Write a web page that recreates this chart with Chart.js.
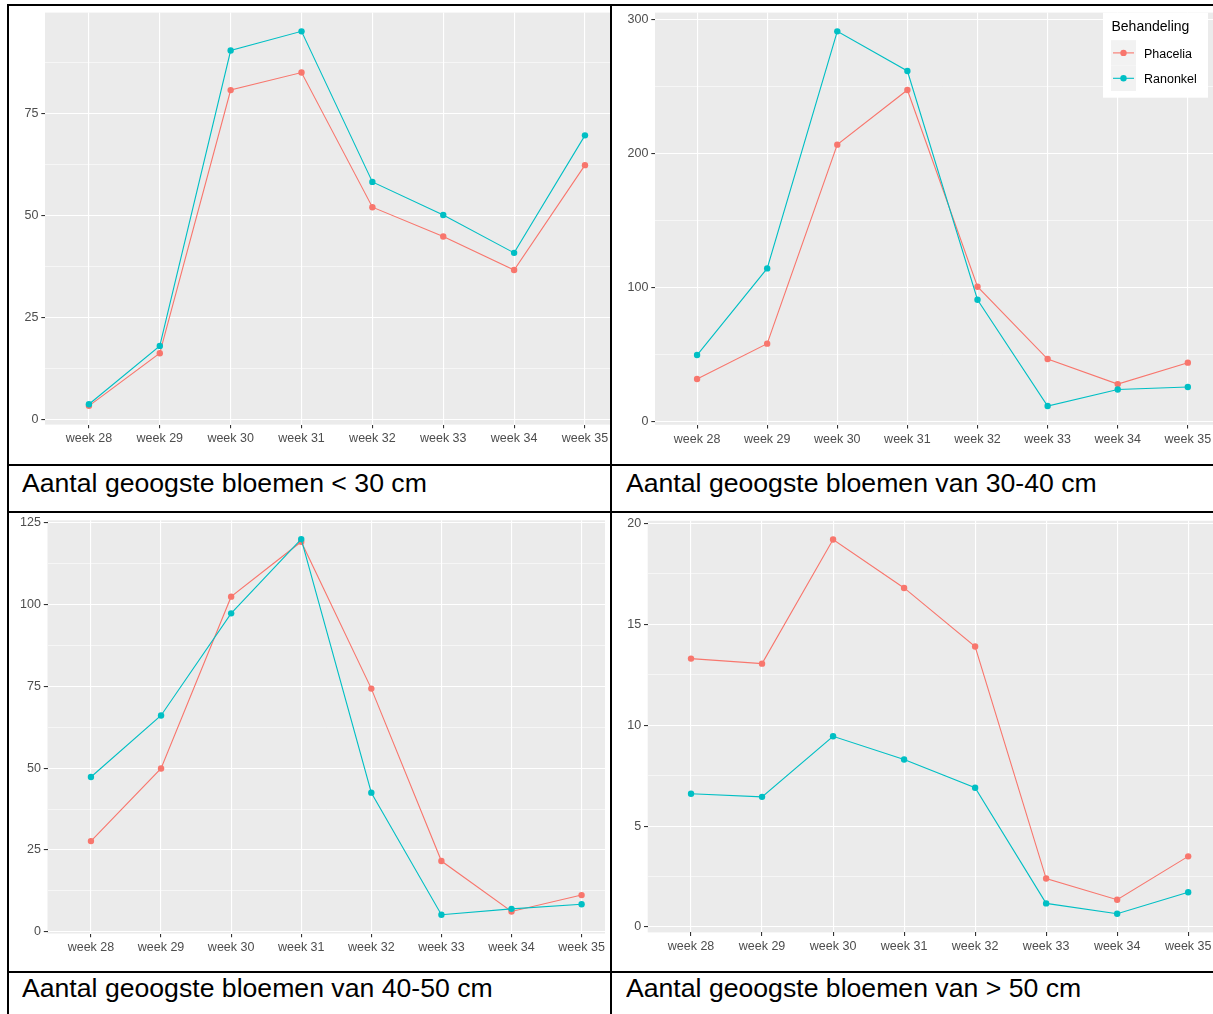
<!DOCTYPE html>
<html>
<head>
<meta charset="utf-8">
<title>Aantal geoogste bloemen per week</title>
<script src="https://cdn.jsdelivr.net/npm/chart.js@4.4.0/dist/chart.umd.min.js"></script>
<style>
  html, body { margin: 0; padding: 0; background: #fff; }
  body { width: 1213px; height: 1014px; position: relative; overflow: hidden;
         font-family: "Liberation Sans", Arial, sans-serif; }
  .rule { position: absolute; background: #000; }
  .cell { position: absolute; overflow: hidden; }
  .cell canvas { position: absolute; left: 0; top: 0; }
  .caption { position: absolute; left: 22px; font-size: 25px; line-height: 26px;
             color: #000; white-space: nowrap; transform: scaleX(1.065); transform-origin: 0 0; }
</style>
</head>
<body>
  <!-- table rules -->
  <div class="rule" style="left:7px;top:4px;width:1206px;height:2px"></div>
  <div class="rule" style="left:7px;top:4px;width:2px;height:1010px"></div>
  <div class="rule" style="left:610px;top:4px;width:2px;height:1010px"></div>
  <div class="rule" style="left:7px;top:464px;width:1206px;height:2px"></div>
  <div class="rule" style="left:7px;top:511px;width:1206px;height:2px"></div>
  <div class="rule" style="left:7px;top:971px;width:1206px;height:2px"></div>

  <div class="cell" style="left:9px;top:6px;width:601px;height:458px"><canvas id="c1" width="625" height="458"></canvas></div>
  <div class="cell" style="left:612px;top:6px;width:601px;height:458px"><canvas id="c2" width="625" height="458"></canvas></div>
  <div class="cell" style="left:9px;top:513px;width:601px;height:458px"><canvas id="c3" width="625" height="458"></canvas></div>
  <div class="cell" style="left:612px;top:513px;width:601px;height:458px"><canvas id="c4" width="625" height="458"></canvas></div>

  <div class="caption" style="top:470px">Aantal geoogste bloemen &lt; 30 cm</div>
  <div class="caption" style="top:470px;left:626px">Aantal geoogste bloemen van 30-40 cm</div>
  <div class="caption" style="top:975px">Aantal geoogste bloemen van 40-50 cm</div>
  <div class="caption" style="top:975px;left:626px">Aantal geoogste bloemen van &gt; 50 cm</div>

<script>
// ---- data ----
const weeks = ['week 28', 'week 29', 'week 30', 'week 31', 'week 32', 'week 33', 'week 34', 'week 35'];
const treatments = ['Phacelia', 'Ranonkel'];

const phaceliaUnder30 = [3.3, 16.2, 80.7, 85.0, 52.0, 44.8, 36.6, 62.3];
const ranonkelUnder30 = [3.7, 18.0, 90.4, 95.1, 58.2, 50.1, 40.8, 69.6];

const phacelia30to40 = [31.9, 58.3, 206.9, 247.7, 100.8, 46.8, 28.1, 44.1];
const ranonkel30to40 = [49.8, 114.5, 291.5, 261.9, 91.1, 11.7, 24.1, 25.9];

const phacelia40to50 = [27.7, 49.9, 102.4, 119.2, 74.3, 21.6, 6.2, 11.2];
const ranonkel40to50 = [47.3, 66.1, 97.3, 120.0, 42.5, 5.2, 7.0, 8.4];

const phaceliaOver50 = [13.3, 13.05, 19.2, 16.8, 13.9, 2.4, 1.35, 3.5];
const ranonkelOver50 = [6.6, 6.45, 9.45, 8.3, 6.9, 1.17, 0.66, 1.72];

// y tick labels (major) and minor grid positions
const yMajorUnder30 = [0, 25, 50, 75];
const yMinorUnder30 = [12.5, 37.5, 62.5, 87.5];
const yMajor30to40 = [0, 100, 200, 300];
const yMinor30to40 = [50, 150, 250];
const yMajor40to50 = [0, 25, 50, 75, 100, 125];
const yMinor40to50 = [12.5, 37.5, 62.5, 87.5, 112.5];
const yMajorOver50 = [0, 5, 10, 15, 20];
const yMinorOver50 = [2.5, 7.5, 12.5, 17.5];

// ---- styling ----
const seriesColors = { Phacelia: '#F8766D', Ranonkel: '#00BFC4' };
const FONT = '"Liberation Sans", Arial, sans-serif';
const AXIS_TEXT = '#4D4D4D';
const TICK_MARK = '#333333';

// 5% padding on both ends of the data range
function expandRange(values) {
  const lo = Math.min(...values), hi = Math.max(...values);
  const pad = (hi - lo) * 0.05;
  return [lo - pad, hi + pad];
}

// keep the plot frame exactly where the layout puts it
function noLabelPadding(axis) {
  axis.paddingTop = 0; axis.paddingBottom = 0;
  axis.paddingLeft = 0; axis.paddingRight = 0;
}

const panelBackground = {
  id: 'panelBackground',
  beforeDraw(chart) {
    const { ctx, chartArea: a } = chart;
    ctx.save();
    ctx.fillStyle = '#EBEBEB';
    ctx.fillRect(a.left, a.top, a.right - a.left, a.bottom - a.top);
    ctx.restore();
  }
};

const keyLegend = {
  id: 'keyLegend',
  afterDraw(chart, args, opts) {
    if (!opts.display) return;
    const { ctx } = chart;
    const b = opts.box;
    ctx.save();
    ctx.fillStyle = '#FFFFFF';
    ctx.fillRect(b.x, b.y, b.w, b.h);
    ctx.textAlign = 'left';
    ctx.textBaseline = 'middle';
    ctx.fillStyle = '#000000';
    ctx.font = '14px ' + FONT;
    ctx.fillText(opts.title, b.x + 8.5, b.y + 14.8);
    chart.data.datasets.forEach((ds, i) => {
      const kx = b.x + 8, ky = b.y + 27.5 + i * 25.4, cy = ky + 12.7;
      ctx.fillStyle = '#F2F2F2';
      ctx.fillRect(kx, ky, 25, 25.4);
      ctx.strokeStyle = ds.borderColor;
      ctx.lineWidth = 1.1;
      ctx.beginPath(); ctx.moveTo(kx + 2, cy); ctx.lineTo(kx + 23, cy); ctx.stroke();
      ctx.fillStyle = ds.borderColor;
      ctx.beginPath(); ctx.arc(kx + 12.5, cy, 3.2, 0, Math.PI * 2); ctx.fill();
      ctx.fillStyle = '#000000';
      ctx.font = '12.5px ' + FONT;
      ctx.fillText(ds.label, kx + 33, cy + 1.2);
    });
    ctx.restore();
  }
};

function makePanel(id, phacelia, ranonkel, yMajor, yMinor, frame, legend) {
  const canvas = document.getElementById(id);
  const H = canvas.height, W = canvas.width;
  const [yMin, yMax] = expandRange(phacelia.concat(ranonkel));
  const yTicks = yMajor.concat(yMinor).sort((a, b) => a - b);
  const isMajor = v => yMajor.includes(v);
  const series = [phacelia, ranonkel];

  new Chart(canvas, {
    type: 'line',
    data: {
      datasets: treatments.map((name, k) => ({
        label: name,
        data: series[k].map((v, i) => ({ x: i, y: v })),
        borderColor: seriesColors[name],
        backgroundColor: seriesColors[name],
        borderWidth: 1.1,
        pointRadius: 3.2,
        pointBorderWidth: 0,
        pointHoverRadius: 3.2,
        tension: 0,
        fill: false,
        order: treatments.length - 1 - k
      }))
    },
    options: {
      responsive: false,
      devicePixelRatio: 1,
      animation: false,
      events: [],
      layout: {
        autoPadding: false,
        padding: { left: 0, top: frame.top, right: W - frame.right, bottom: 0 }
      },
      plugins: {
        legend: { display: false },
        tooltip: { enabled: false },
        keyLegend: legend || { display: false }
      },
      scales: {
        x: {
          type: 'linear',
          min: frame.xMin,
          max: frame.xMax,
          afterBuildTicks: axis => { axis.ticks = weeks.map((w, i) => ({ value: i })); },
          afterFit: axis => { axis.height = H - frame.bottom; noLabelPadding(axis); },
          border: { display: false },
          grid: { color: '#FFFFFF', lineWidth: 1.1, drawTicks: true, tickLength: 3.7,
                  tickColor: TICK_MARK, tickWidth: 1.1 },
          ticks: { autoSkip: false, maxRotation: 0, padding: 3.2, color: AXIS_TEXT,
                   font: { family: FONT, size: 12.5 },
                   callback: v => weeks[v] }
        },
        y: {
          type: 'linear',
          min: yMin,
          max: yMax,
          afterBuildTicks: axis => { axis.ticks = yTicks.map(v => ({ value: v })); },
          afterFit: axis => { axis.width = frame.left; noLabelPadding(axis); },
          border: { display: false },
          grid: {
            color: '#FFFFFF',
            lineWidth: c => (c.tick && isMajor(c.tick.value)) ? 1.1 : 0.55,
            drawTicks: true,
            tickLength: 3.7,
            tickWidth: 1.1,
            tickColor: c => (c.tick && isMajor(c.tick.value)) ? TICK_MARK : 'rgba(0,0,0,0)'
          },
          ticks: { padding: 2.9, color: AXIS_TEXT, font: { family: FONT, size: 12.5 },
                   callback: v => isMajor(v) ? String(v) : '' }
        }
      }
    },
    plugins: [panelBackground, keyLegend]
  });
}

makePanel('c1', phaceliaUnder30, ranonkelUnder30, yMajorUnder30, yMinorUnder30,
  { left: 36, top: 6.6, bottom: 418.6, right: 619.9, xMin: -0.62, xMax: 7.62 });

makePanel('c2', phacelia30to40, ranonkel30to40, yMajor30to40, yMinor30to40,
  { left: 43, top: 6.6, bottom: 418.8, right: 617.9, xMin: -0.6, xMax: 7.6 },
  { display: true, title: 'Behandeling', box: { x: 491, y: 6.7, w: 105, h: 85 } });

makePanel('c3', phacelia40to50, ranonkel40to50, yMajor40to50, yMinor40to50,
  { left: 38.5, top: 7.3, bottom: 420.5, right: 596, xMin: -0.62, xMax: 7.334 });

makePanel('c4', phaceliaOver50, ranonkelOver50, yMajorOver50, yMinorOver50,
  { left: 35.7, top: 7.8, bottom: 419.4, right: 618.8, xMin: -0.61, xMax: 7.6 });
</script>
</body>
</html>
